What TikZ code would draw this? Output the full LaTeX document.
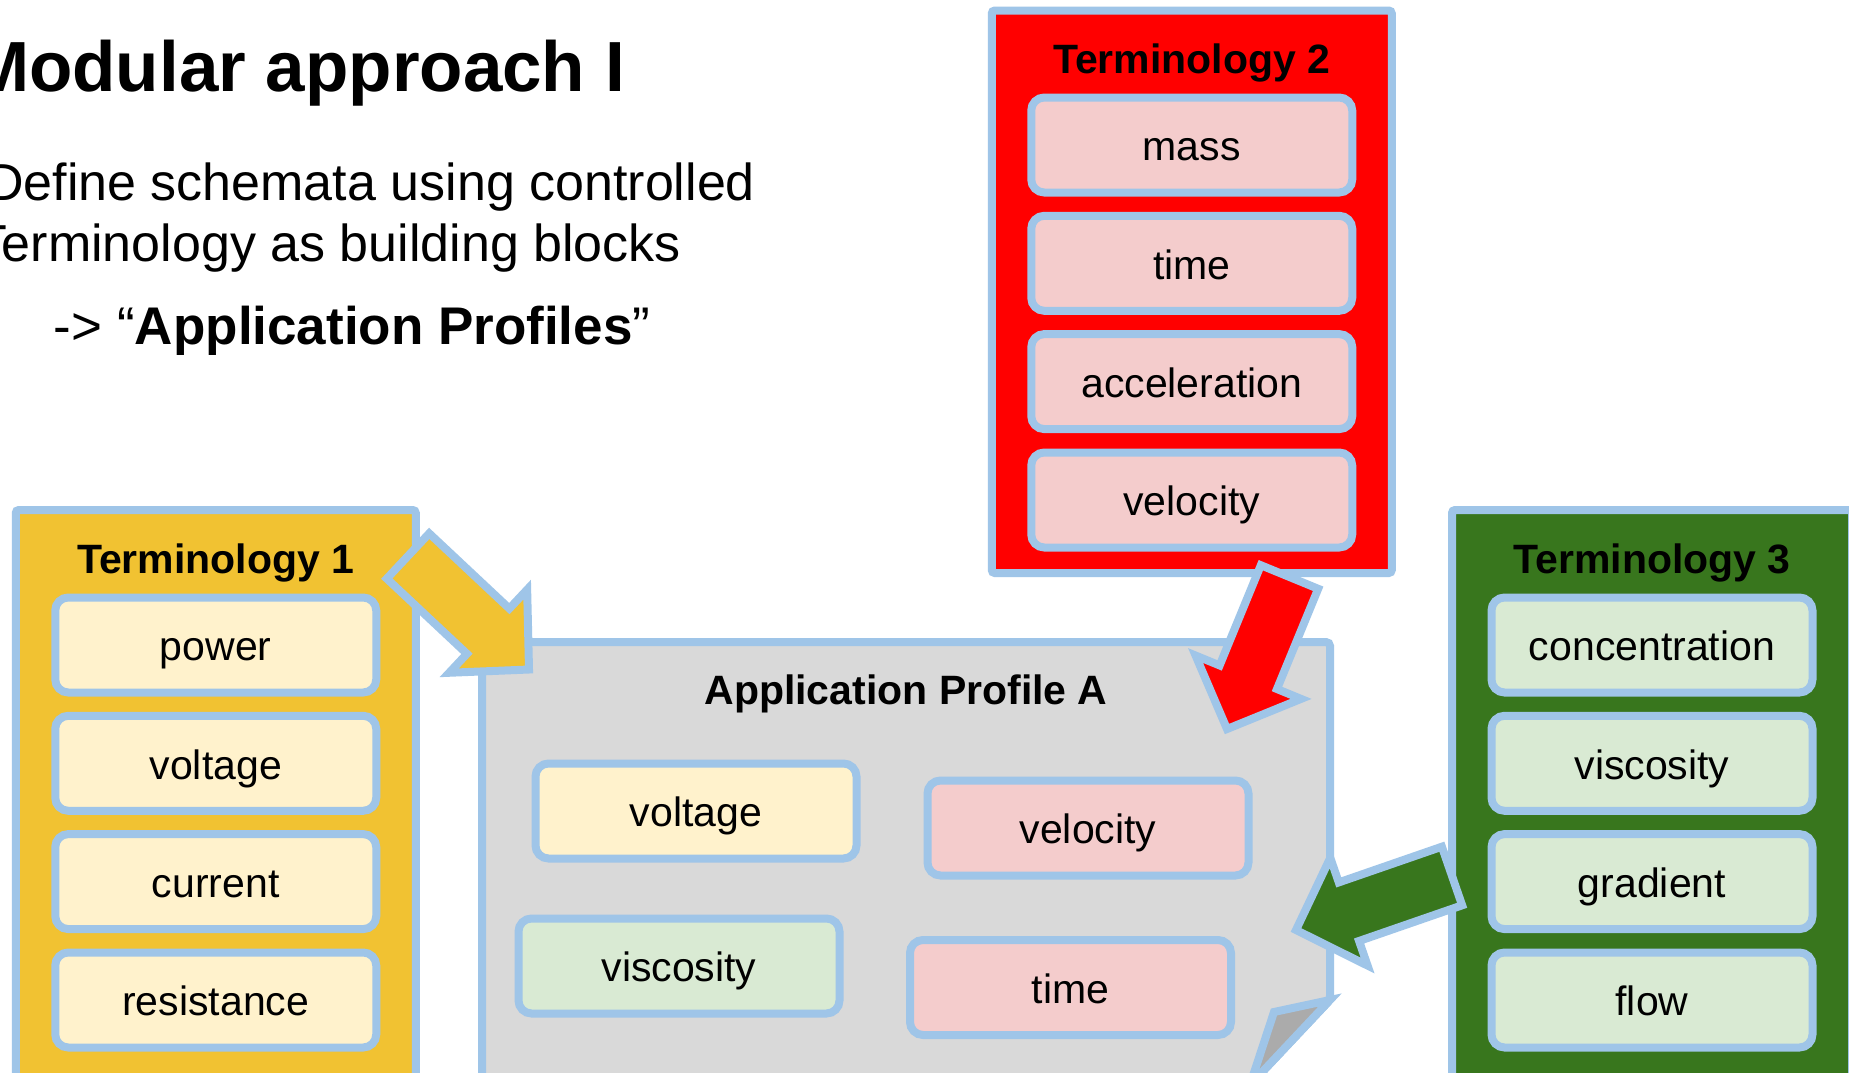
\documentclass[tikz,border=0pt]{standalone}
\usepackage{fontspec}
\setmainfont{Liberation Sans}
\usetikzlibrary{calc}

\definecolor{edgeblue}{HTML}{9FC5E8}
\definecolor{goldfill}{HTML}{F1C232}
\definecolor{redfill}{HTML}{FF0000}
\definecolor{greenfill}{HTML}{38761D}
\definecolor{creamfill}{HTML}{FFF2CC}
\definecolor{pinkfill}{HTML}{F4CCCC}
\definecolor{mintfill}{HTML}{D9EAD3}
\definecolor{pagegray}{HTML}{D9D9D9}
\definecolor{foldgray}{HTML}{ABABAB}

\newcommand\itemfont{\fontsize{20.5pt}{24pt}\selectfont}
\newcommand\headfont{\fontsize{20.5pt}{24pt}\selectfont\bfseries}

% block arrow: #1 fill colour, #2 tail coordinate, #3 tip coordinate
\newcommand\blockarrow[3]{%
  \coordinate (hb) at ($(#3)!28pt!(#2)$);
  \filldraw[fill=#1, draw=edgeblue, line width=4pt, line join=miter]
    ($(#2)!15.5pt!90:(#3)$) -- ($(hb)!15.5pt!90:(#3)$) --
    ($(hb)!28.5pt!90:(#3)$) -- (#3) --
    ($(hb)!28.5pt!-90:(#3)$) -- ($(hb)!15.5pt!-90:(#3)$) --
    ($(#2)!15.5pt!-90:(#3)$) -- cycle;
}

\begin{document}
\begin{tikzpicture}[x=0.5pt, y=-0.5pt,
  every node/.style={inner sep=0pt, outer sep=0pt},
  panel/.style={draw=edgeblue, line width=4pt, rounded corners=1.5pt,
    minimum width=200pt},
  itembox/.style={draw=edgeblue, line width=4pt, rounded corners=6.5pt,
    minimum width=160.5pt, minimum height=47.5pt,
    text height=18.55pt, text depth=2.6pt, font=\itemfont},
  panelhead/.style={anchor=base, font=\headfont},
  bodytext/.style={font=\fontsize{26pt}{31pt}\selectfont}]

\useasboundingbox (0,0) rectangle (1849,1072);
\clip (0,0) rectangle (1849,1072);
\fill[white] (0,0) rectangle (1849,1072);

% heading and bullet text
\node[anchor=base west, font=\fontsize{35.5pt}{42pt}\selectfont\bfseries]
  (heading) at (-30,91) {Modular approach I};
\node[anchor=base east, bodytext] (lineone) at (755,200)
  {Define schemata using controlled};
\node[anchor=base east, bodytext] (linetwo) at (681,261)
  {Terminology as building blocks};
\node[anchor=base west, font=\fontsize{26.5pt}{31pt}\selectfont] (linethree) at (54,344)
  {-> “\textbf{Application Profiles}”};

% terminology panels
\node[panel, fill=goldfill, minimum height=290pt] (t1) at (215.75,800) {};
\node[panel, fill=redfill, minimum height=281.25pt] (t2) at (1191.75,291.75) {};
\node[panel, fill=greenfill, minimum height=290pt] (t3) at (1652,800) {};

\node[panelhead] (t1head) at (215.75,573) {Terminology 1};
\node[panelhead] (t2head) at (1191.75,73) {Terminology 2};
\node[panelhead] (t3head) at (1652,573) {Terminology 3};

\node[itembox, fill=creamfill] (power)      at (215.75,645)   {power};
\node[itembox, fill=creamfill] (voltage)    at (215.75,763.3) {voltage};
\node[itembox, fill=creamfill] (current)    at (215.75,881.6) {current};
\node[itembox, fill=creamfill] (resistance) at (215.75,1000)  {resistance};

\node[itembox, fill=pinkfill] (mass)         at (1191.75,145)   {mass};
\node[itembox, fill=pinkfill] (time)         at (1191.75,263.3) {time};
\node[itembox, fill=pinkfill] (acceleration) at (1191.75,381.6) {acceleration};
\node[itembox, fill=pinkfill] (velocity)     at (1191.75,500)   {velocity};

\node[itembox, fill=mintfill] (concentration) at (1652,645)   {concentration};
\node[itembox, fill=mintfill] (viscosity)     at (1652,763.3) {viscosity};
\node[itembox, fill=mintfill] (gradient)      at (1652,881.6) {gradient};
\node[itembox, fill=mintfill] (flow)          at (1652,1000)  {flow};

% application profile page with folded corner
\filldraw[fill=pagegray, draw=edgeblue, line width=4pt, rounded corners=2pt]
  (482,642) -- (1330,642) -- (1330,1000) -- (1250,1085) -- (482,1085) -- cycle;
\filldraw[fill=foldgray, draw=edgeblue, line width=4pt, line join=miter]
  (1330,1000) -- (1274,1012) -- (1250,1085) -- cycle;
\node[panelhead] (aphead) at (906,704) {Application Profile A};

\node[itembox, fill=creamfill] (apvoltage)   at (696,811)     {voltage};
\node[itembox, fill=pinkfill]  (apvelocity)  at (1088,828)    {velocity};
\node[itembox, fill=mintfill]  (apviscosity) at (679,966)     {viscosity};
\node[itembox, fill=pinkfill]  (aptime)      at (1070.5,987.5) {time};

% arrows from each terminology into the profile
\coordinate (goldtail) at (408,556);
\coordinate (goldtip) at (529,669.5);
\coordinate (redtail) at (1289.5,577);
\coordinate (redtip) at (1227,729);
\coordinate (greentail) at (1452,876);
\coordinate (greentip) at (1296,930);

\blockarrow{goldfill}{goldtail}{goldtip}
\blockarrow{redfill}{redtail}{redtip}
\blockarrow{greenfill}{greentail}{greentip}
\end{tikzpicture}
\end{document}
